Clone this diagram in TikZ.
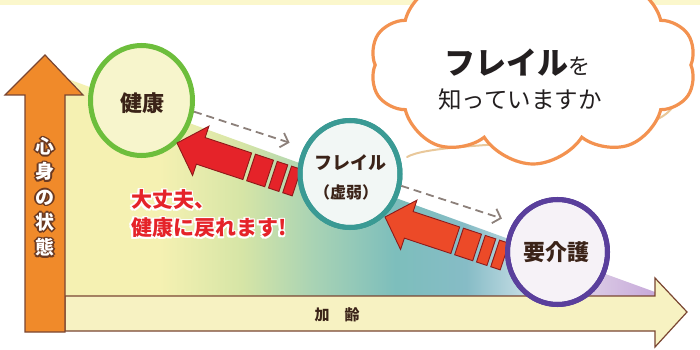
\documentclass[tikz,border=0pt]{standalone}
\usepackage{fontspec}
\newfontfamily\jp{Noto Sans CJK JP}
\usetikzlibrary{shapes.geometric,shapes.symbols,arrows.meta,calc}
\definecolor{bandY}{HTML}{FBF7CC}
\definecolor{gY}{HTML}{F5F1B2}
\definecolor{gG}{HTML}{D6E5A6}
\definecolor{gGT}{HTML}{A9D3B4}
\definecolor{gT}{HTML}{7DBEBC}
\definecolor{gB}{HTML}{86BCC6}
\definecolor{gL}{HTML}{C4DCE4}
\definecolor{gLP}{HTML}{D9C8E4}
\definecolor{gP}{HTML}{C7A9DA}
\definecolor{axisO}{HTML}{F08A2A}
\definecolor{axisLine}{HTML}{7A4632}
\definecolor{ageY}{HTML}{F7F2C2}
\definecolor{brownT}{HTML}{3B2318}
\definecolor{haloBrown}{HTML}{6B3A22}
\definecolor{kenkoG}{HTML}{6DBE3C}
\definecolor{kenkoF}{HTML}{F7F5CC}
\definecolor{frailT}{HTML}{3A9A94}
\definecolor{frailF}{HTML}{F2F7F5}
\definecolor{kaigoP}{HTML}{5A3F9C}
\definecolor{kaigoF}{HTML}{F6F2F7}
\definecolor{dashG}{HTML}{8C807A}
\definecolor{redA}{HTML}{E52329}
\definecolor{redB}{HTML}{EC4A28}
\definecolor{redLine}{HTML}{8E1A1A}
\definecolor{cloudO}{HTML}{F39250}
\definecolor{swooshC}{HTML}{E9C89A}
\definecolor{inkK}{HTML}{231F20}
\pgfdeclarehorizontalshading{agegrad}{100bp}{color(0bp)=(gY); color(25bp)=(gY); color(33bp)=(gY); color(40bp)=(gG); color(46bp)=(gGT); color(53bp)=(gT); color(59bp)=(gB); color(64bp)=(gL); color(70bp)=(gLP); color(75bp)=(gP); color(100bp)=(gP)}
\tikzset{
  txt/.style={inner sep=0pt, outer sep=0pt, font=\jp},
  stage/.style={ellipse, line width=5pt, inner sep=0pt},
  dasharrow/.style={draw=dashG, line width=1.8pt, dash pattern=on 8pt off 5pt,
    -{Straight Barb[length=7pt,width=15pt,line width=1.8pt]}},
  arrowbody/.style={draw=redLine, line width=0.9pt},
}
\newcommand{\halotext}[6]{%
  \foreach \hk in {0,45,...,315}{\node[#5,text=#3] (#1h\hk) at ($(#2)+(\hk:1.6pt)$) {#6};}
  \node[#5,text=#4] (#1) at (#2) {#6};}
\newcommand{\redarrow}[3]{%
  \begin{scope}[shift={(#1)}, rotate=#2]
    \filldraw[arrowbody, fill=#3] (0,0) -- (25,-26) -- (25,-14) -- (74,-14) -- (74,14) -- (25,14) -- (25,26) -- cycle;
    \filldraw[arrowbody, fill=#3] (78,-14) rectangle (97,14);
    \filldraw[arrowbody, fill=#3] (101,-14) rectangle (112,14);
    \filldraw[arrowbody, fill=#3] (116,-14) rectangle (126,14);
  \end{scope}}
\begin{document}
\begin{tikzpicture}[x=1pt,y=-1pt]
\useasboundingbox (0,0) rectangle (700,350);
\fill[white] (0,0) rectangle (700,350);
% top band
\fill[bandY] (0,0) rectangle (700,5);
% gradient area
\shade[shading=agegrad] (65,78) -- (655,292) -- (655,297) -- (65,297) -- cycle;
% horizontal axis arrow
\filldraw[fill=ageY, draw=axisLine, line width=1.2pt]
  (65,296) -- (655,296) -- (655,278) -- (687,312) -- (655,347) -- (655,331) -- (65,331) -- cycle;
% vertical axis arrow
\filldraw[fill=axisO, draw=axisLine, line width=1.2pt]
  (25,332) -- (25,95) -- (5,95) -- (45,55) -- (83,95) -- (65,95) -- (65,332) -- cycle;
% swoosh behind cloud
\draw[swooshC, line width=2pt, line cap=round] (407,157) .. controls (440,138) and (640,150) .. (672,108);
% cloud
\node[cloud, cloud puffs=10, cloud puff arc=115, cloud ignores aspect, minimum width=326pt, minimum height=198pt, draw=cloudO, line width=3.2pt, fill=white] (cloud) at (533,65) {};
\node[txt, text=inkK] (cl1) at (517,63) {{\bfseries\fontsize{31}{31}\selectfont フレイル}{\fontsize{22}{22}\selectfont を}};
\node[txt, text=inkK] (cl2) at (520,100) {\fontsize{23.5}{23.5}\selectfont 知っていますか};
% stage nodes
\node[stage, draw=kenkoG, fill=kenkoF, minimum width=102pt, minimum height=110pt] (kenko) at (141.5,100.5) {};
\node[stage, draw=frailT, fill=frailF, minimum width=100pt, minimum height=107pt] (frail) at (350,174) {};
\node[stage, draw=kaigoP, fill=kaigoF, minimum width=100pt, minimum height=105pt] (kaigo) at (557.5,252) {};
% tip coordinates for the return arrows
\coordinate (tipA) at (177,143);
\coordinate (tipB) at (385,217);
\redarrow{tipA}{-18.3}{redA}
\redarrow{tipB}{-18.3}{redB}
% redraw rings on top of arrow tails
\node[stage, draw=frailT, minimum width=100pt, minimum height=107pt] (frailring) at (frail) {};
\node[stage, draw=kaigoP, minimum width=100pt, minimum height=105pt] (kaigoring) at (kaigo) {};
% dashed progression arrows
\draw[dasharrow, shorten >=15pt] (kenko.-12) -- (frail.150);
\draw[dasharrow, shorten >=12pt] (frail.-13) -- (kaigo.146);
% labels in stages
\node[txt, text=brownT, font=\jp\bfseries\fontsize{22}{22}\selectfont] (kenkoT) at (142,103) {健康};
\node[txt, text=brownT, font=\jp\bfseries\fontsize{18}{18}\selectfont] (frailT1) at (350,163) {フレイル};
\node[txt, text=brownT, font=\jp\bfseries\fontsize{16}{16}\selectfont] (frailT2) at (346,192) {（虚弱）};
\node[txt, text=brownT, font=\jp\bfseries\fontsize{22}{22}\selectfont] (kaigoT) at (556,252) {要介護};
% red message
\halotext{msg}{131,214}{white}{redA}{txt, anchor=west, align=left, font=\jp\bfseries\fontsize{21}{28}\selectfont}{大丈夫、\\健康に戻れます!}
% vertical axis label
\halotext{vlab}{45,197}{haloBrown}{white}{txt, align=center, font=\jp\bfseries\fontsize{19}{25.3}\selectfont}{心\\身\\の\\状\\態}
% horizontal axis label
\node[txt, text=brownT, font=\jp\bfseries\fontsize{15}{15}\selectfont] (age) at (337,315) {加　齢};
\end{tikzpicture}
\end{document}
